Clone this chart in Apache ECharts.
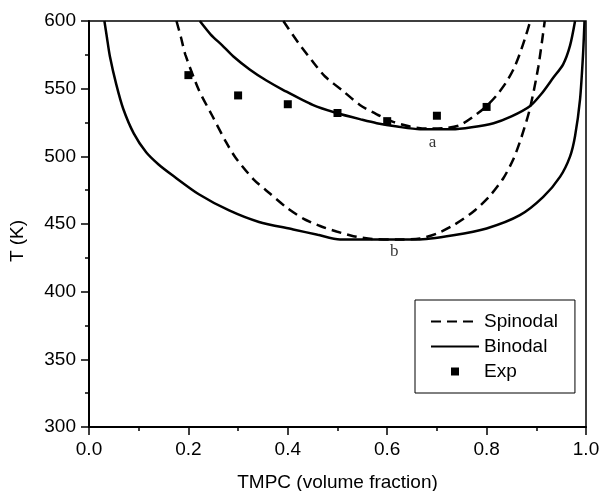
<!DOCTYPE html>
<html>
<head>
<meta charset="utf-8">
<script src="https://cdn.jsdelivr.net/npm/echarts@6/dist/echarts.min.js"></script>
<style>html,body{margin:0;padding:0;background:#fff}#c{width:602px;height:491px}</style>
</head>
<body>
<div id="c"></div>
<script>
// Data: [TMPC volume fraction, T (K)]
var spinodalA = [[0.391,600],[0.421,584],[0.448,571],[0.475,559],[0.512,548],[0.545,538],[0.579,531],[0.612,525.5],[0.646,522],[0.68,520.5],[0.72,521],[0.746,523],[0.772,529],[0.798,536.5],[0.82,545],[0.84,555],[0.855,565],[0.867,576],[0.878,588],[0.888,600]];
var binodalA = [[0.223,600],[0.245,590],[0.268,582],[0.29,574],[0.324,564],[0.357,556],[0.391,549],[0.45,538],[0.498,532],[0.55,527],[0.579,524.5],[0.62,522],[0.666,520],[0.73,520],[0.77,521.5],[0.814,524.5],[0.85,529.5],[0.887,537],[0.91,546],[0.934,558],[0.954,568],[0.968,582],[0.978,600]];
var spinodalB = [[0.176,600],[0.185,588],[0.194,575],[0.221,549],[0.248,530],[0.275,511],[0.295,499],[0.331,483],[0.364,472.5],[0.398,462],[0.431,454],[0.465,448.5],[0.498,444.5],[0.532,441],[0.57,439],[0.62,438.5],[0.666,439.3],[0.70,443],[0.733,449],[0.773,459],[0.807,471],[0.834,484],[0.854,498],[0.87,514],[0.887,535],[0.904,566],[0.917,600]];
var binodalB = [[0.031,600],[0.036,588],[0.042,574],[0.055,553],[0.069,535],[0.09,517],[0.115,503],[0.14,494],[0.168,486],[0.221,472],[0.282,460],[0.342,451.5],[0.411,446],[0.46,442],[0.505,438.5],[0.66,438.5],[0.733,441.7],[0.80,446.7],[0.867,456.5],[0.914,470],[0.948,485],[0.968,500],[0.978,515],[0.988,542],[0.994,575],[0.997,600]];
var expData = [[0.2,560],[0.3,545],[0.4,538.5],[0.5,532],[0.6,526],[0.7,530],[0.8,536.5]];
var curveLabels = [{name:'a', value:[0.691,510]},{name:'b', value:[0.614,429.3]}];
var legendNames = ['Spinodal','Binodal','Exp'];
var xTitle = 'TMPC (volume fraction)';
var yTitle = 'T (K)';

var chart = echarts.init(document.getElementById('c'), null, {renderer:'canvas'});
var FONT = 'Liberation Sans, Arial, sans-serif';
var lineCommon = {type:'line', showSymbol:false, symbol:'none', smooth:0.25, z:3};
chart.setOption({
  animation:false,
  backgroundColor:'#fff',
  grid:{left:89, right:16, top:21, bottom:64, show:true, borderColor:'#000', borderWidth:1.5, outerBoundsMode:'none', containLabel:false},
  legend:{
    data:[
      {name:legendNames[0], itemStyle:{opacity:0, color:'rgba(0,0,0,0)', borderWidth:0}},
      {name:legendNames[1], itemStyle:{opacity:0, color:'rgba(0,0,0,0)', borderWidth:0}},
      {name:legendNames[2], icon:'path://M0,0L0,0M48,8L48,8M20,0h8v8h-8z'}
    ],
    orient:'vertical', left:415, top:300,
    padding:[12,17,12,15], itemWidth:48, itemHeight:8, itemGap:6,
    borderColor:'#000', borderWidth:1, backgroundColor:'#fff',
    textStyle:{fontFamily:FONT, fontSize:19, color:'#000'}
  },
  xAxis:{
    type:'value', min:0, max:1, interval:0.2,
    name:xTitle, nameLocation:'middle', nameGap:46,
    nameTextStyle:{fontFamily:FONT, fontSize:19, color:'#000'},
    axisLine:{lineStyle:{color:'#000', width:2}},
    axisTick:{length:8, lineStyle:{color:'#000', width:1.5}},
    minorTick:{show:true, splitNumber:2, length:4, lineStyle:{color:'#000', width:1.5}},
    splitLine:{show:false},
    axisLabel:{fontFamily:FONT, fontSize:19, color:'#000', margin:13, formatter:function(v){return v.toFixed(1);}}
  },
  yAxis:{
    type:'value', min:300, max:600, interval:50,
    name:yTitle, nameLocation:'middle', nameGap:62,
    nameTextStyle:{fontFamily:FONT, fontSize:19, color:'#000', padding:[0,34,0,0]},
    axisLine:{lineStyle:{color:'#000', width:2}},
    axisTick:{length:8, lineStyle:{color:'#000', width:1.5}},
    minorTick:{show:true, splitNumber:2, length:4, lineStyle:{color:'#000', width:1.5}},
    splitLine:{show:false},
    axisLabel:{fontFamily:FONT, fontSize:19, color:'#000', margin:13}
  },
  series:[
    Object.assign({}, lineCommon, {name:'Spinodal', data:spinodalA, lineStyle:{color:'#000', width:2.5, type:[10,6]}, itemStyle:{color:'#000'}}),
    Object.assign({}, lineCommon, {name:'Binodal', data:binodalA, lineStyle:{color:'#000', width:2.5}, itemStyle:{color:'#000'}}),
    Object.assign({}, lineCommon, {name:'Spinodal', data:spinodalB, lineStyle:{color:'#000', width:2.5, type:[10,6]}, itemStyle:{color:'#000'}}),
    Object.assign({}, lineCommon, {name:'Binodal', data:binodalB, lineStyle:{color:'#000', width:2.5}, itemStyle:{color:'#000'}}),
    {type:'scatter', name:'Exp', data:expData, symbol:'rect', symbolSize:8, itemStyle:{color:'#000', opacity:1}, z:4},
    {type:'scatter', name:'labels', data:curveLabels, symbolSize:0, silent:true,
     label:{show:true, position:'inside', formatter:'{b}', fontFamily:'Liberation Serif, Times New Roman, serif', fontSize:17, color:'#000'}}
  ]
});
</script>
</body>
</html>
